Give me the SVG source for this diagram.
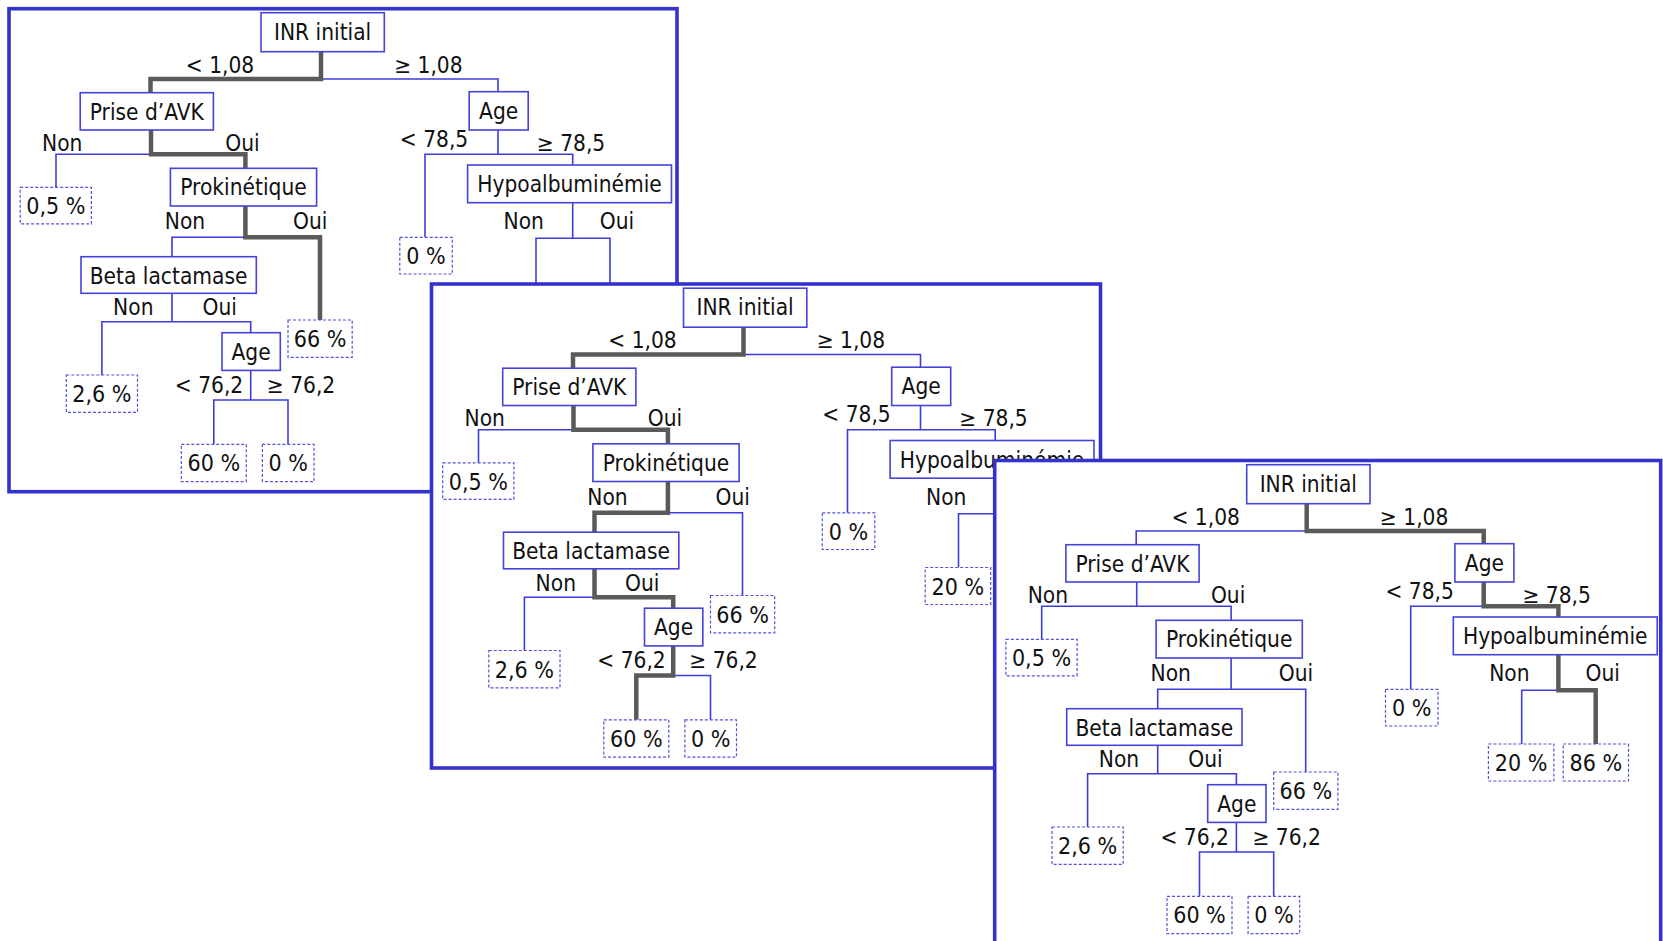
<svg xmlns="http://www.w3.org/2000/svg" width="1663" height="941" viewBox="0 0 1663 941">
<style>
.frame{fill:#fff;stroke:#3333cc;stroke-width:3.6}
.node rect{fill:#fff;stroke:#4444dd;stroke-width:1.6}
.leaf rect{fill:#fff;stroke:#5252dd;stroke-width:1.2;stroke-dasharray:3 2}
text{font-family:"DejaVu Sans Condensed","DejaVu Sans",sans-serif;font-stretch:condensed;font-size:22.5px;fill:#111;text-anchor:middle}
.leaf text{font-size:23px}
.thin{fill:none;stroke:#3c3cdc;stroke-width:1.6}
.bold{fill:none;stroke:#5a5a5a;stroke-width:4.5;stroke-linejoin:miter}
</style>
<rect width="1663" height="941" fill="#fff"/>

<!-- ================= PANEL 1 ================= -->
<g id="panel1">
<rect class="frame" x="9" y="8.7" width="668" height="483"/>
<g id="p1-connectors">
<path class="thin" d="M321,51.7 V79 M150.5,92.7 V79 H498 V91.7"/>
<path class="thin" d="M151,130 V154.3 M56,187.3 V154.3 H245.4 V168.3"/>
<path class="thin" d="M498,130 V154.3 M425,237.3 V154.3 H572.7 V165"/>
<path class="thin" d="M245.4,206 V237.3 M172,256.7 V237.3 H320 V320"/>
<path class="thin" d="M572.7,202.7 V238.3 M536,292 V238.3 H610 V292"/>
<path class="thin" d="M172,293.3 V321.7 M101.9,375 V321.7 H250.7 V332.7"/>
<path class="thin" d="M250.7,370.4 V400 M213.8,444.3 V400 H288 V444.3"/>
<path class="bold" d="M321,51.7 V79 H150.5 V92.7"/>
<path class="bold" d="M151,130 V154.3 H245.4 V168.3"/>
<path class="bold" d="M245.4,206 V237.3 H320 V320"/>
<g id="p1-edge-labels">
<text x="220" y="72.7">&lt; 1,08</text><text x="428.4" y="72.7">≥ 1,08</text>
<text x="62.2" y="150.7">Non</text><text x="242.4" y="150.7">Oui</text>
<text x="434" y="146.5">&lt; 78,5</text><text x="571" y="150.7">≥ 78,5</text>
<text x="185" y="229.3">Non</text><text x="310.2" y="229.3">Oui</text>
<text x="523.7" y="229.3">Non</text><text x="617" y="229.3">Oui</text>
<text x="133.3" y="315.3">Non</text><text x="219.7" y="315.3">Oui</text>
<text x="209" y="392.5">&lt; 76,2</text><text x="301" y="392.5">≥ 76,2</text>
</g>
</g>
<g id="p1-inr" class="node"><rect x="261" y="12.7" width="123.3" height="39"/><text x="322.6" y="39.7">INR initial</text></g>
<g id="p1-prise" class="node"><rect x="80.2" y="92.7" width="133.2" height="37.3"/><text x="146.8" y="119.7">Prise d’AVK</text></g>
<g id="p1-age" class="node"><rect x="469.2" y="91.7" width="59" height="38.3"/><text x="498.7" y="118.7">Age</text></g>
<g id="p1-l05" class="leaf"><rect x="20.2" y="187.3" width="71.2" height="36.5"/><text x="55.8" y="214.3">0,5 %</text></g>
<g id="p1-prok" class="node"><rect x="170.4" y="168.3" width="146.2" height="37.7"/><text x="243.5" y="195.3">Prokinétique</text></g>
<g id="p1-l0a" class="leaf"><rect x="399.8" y="237.3" width="52.5" height="36.7"/><text x="426" y="264.3">0 %</text></g>
<g id="p1-hypo" class="node"><rect x="467.6" y="165" width="203.9" height="37.7"/><text x="569.5" y="192">Hypoalbuminémie</text></g>
<g id="p1-beta" class="node"><rect x="81" y="256.7" width="175.3" height="36.6"/><text x="168.6" y="283.7">Beta lactamase</text></g>
<g id="p1-l66" class="leaf"><rect x="288" y="320" width="64.2" height="37.3"/><text x="320.1" y="347">66 %</text></g>
<g id="p1-age2" class="node"><rect x="222" y="332.7" width="58.3" height="37.7"/><text x="251.1" y="359.7">Age</text></g>
<g id="p1-l26" class="leaf"><rect x="66.3" y="375" width="71.2" height="37.3"/><text x="101.9" y="402">2,6 %</text></g>
<g id="p1-l60" class="leaf"><rect x="181.3" y="444.3" width="65" height="37.3"/><text x="213.8" y="471.3">60 %</text></g>
<g id="p1-l0b" class="leaf"><rect x="262.4" y="444.3" width="51.6" height="37.3"/><text x="288.2" y="471.3">0 %</text></g>
</g>

<!-- ================= PANEL 2 ================= -->
<g id="panel2" transform="translate(422.5,275.5)">
<rect class="frame" x="9" y="8.5" width="669" height="484"/>
<g id="p2-connectors">
<path class="thin" d="M321,51.7 V79 M150.5,92.7 V79 H498 V91.7"/>
<path class="thin" d="M151,130 V154.3 M56,187.3 V154.3 H245.4 V168.3"/>
<path class="thin" d="M498,130 V154.3 M425,237.3 V154.3 H572.7 V165"/>
<path class="thin" d="M245.4,206 V237.3 M172,256.7 V237.3 H320 V320"/>
<path class="thin" d="M536,292 V238.3 H572"/>
<path class="thin" d="M172,293.3 V321.7 M101.9,375 V321.7 H250.7 V332.7"/>
<path class="thin" d="M250.7,370.4 V400 M213.8,444.3 V400 H288 V444.3"/>
<path class="bold" d="M321,51.7 V79 H150.5 V92.7"/>
<path class="bold" d="M151,130 V154.3 H245.4 V168.3"/>
<path class="bold" d="M245.4,206 V237.3 H172 V256.7"/>
<path class="bold" d="M172,293.3 V321.7 H250.7 V332.7"/>
<path class="bold" d="M250.7,370.4 V400 H213.8 V444.3"/>
<g id="p2-edge-labels">
<text x="220" y="72.7">&lt; 1,08</text><text x="428.4" y="72.7">≥ 1,08</text>
<text x="62.2" y="150.7">Non</text><text x="242.4" y="150.7">Oui</text>
<text x="434" y="146.5">&lt; 78,5</text><text x="571" y="150.7">≥ 78,5</text>
<text x="185" y="229.3">Non</text><text x="310.2" y="229.3">Oui</text>
<text x="523.7" y="229.3">Non</text>
<text x="133.3" y="315.3">Non</text><text x="219.7" y="315.3">Oui</text>
<text x="209" y="392.5">&lt; 76,2</text><text x="301" y="392.5">≥ 76,2</text>
</g>
</g>
<g id="p2-inr" class="node"><rect x="261" y="12.7" width="123.3" height="39"/><text x="322.6" y="39.7">INR initial</text></g>
<g id="p2-prise" class="node"><rect x="80.2" y="92.7" width="133.2" height="37.3"/><text x="146.8" y="119.7">Prise d’AVK</text></g>
<g id="p2-age" class="node"><rect x="469.2" y="91.7" width="59" height="38.3"/><text x="498.7" y="118.7">Age</text></g>
<g id="p2-l05" class="leaf"><rect x="20.2" y="187.3" width="71.2" height="36.5"/><text x="55.8" y="214.3">0,5 %</text></g>
<g id="p2-prok" class="node"><rect x="170.4" y="168.3" width="146.2" height="37.7"/><text x="243.5" y="195.3">Prokinétique</text></g>
<g id="p2-l0a" class="leaf"><rect x="399.8" y="237.3" width="52.5" height="36.7"/><text x="426" y="264.3">0 %</text></g>
<g id="p2-hypo" class="node"><rect x="467.6" y="165" width="203.9" height="37.7"/><text x="569.5" y="192">Hypoalbuminémie</text></g>
<g id="p2-beta" class="node"><rect x="81" y="256.7" width="175.3" height="36.6"/><text x="168.6" y="283.7">Beta lactamase</text></g>
<g id="p2-l66" class="leaf"><rect x="288" y="320" width="64.2" height="37.3"/><text x="320.1" y="347">66 %</text></g>
<g id="p2-age2" class="node"><rect x="222" y="332.7" width="58.3" height="37.7"/><text x="251.1" y="359.7">Age</text></g>
<g id="p2-l26" class="leaf"><rect x="66.3" y="375" width="71.2" height="37.3"/><text x="101.9" y="402">2,6 %</text></g>
<g id="p2-l60" class="leaf"><rect x="181.3" y="444.3" width="65" height="37.3"/><text x="213.8" y="471.3">60 %</text></g>
<g id="p2-l0b" class="leaf"><rect x="262.4" y="444.3" width="51.6" height="37.3"/><text x="288.2" y="471.3">0 %</text></g>
<g id="p2-l20" class="leaf"><rect x="502.7" y="292" width="65.5" height="37"/><text x="535.4" y="319">20 %</text></g>
</g>

<!-- ================= PANEL 3 ================= -->
<g id="panel3" transform="translate(985.7,452)">
<rect class="frame" x="9" y="8.5" width="666" height="490"/>
<g id="p3-connectors">
<path class="thin" d="M321,51.7 V79 M150.5,92.7 V79 H498 V91.7"/>
<path class="thin" d="M151,130 V154.3 M56,187.3 V154.3 H245.4 V168.3"/>
<path class="thin" d="M498,130 V154.3 M425,237.3 V154.3 H572.7 V165"/>
<path class="thin" d="M245.4,206 V237.3 M172,256.7 V237.3 H320 V320"/>
<path class="thin" d="M572.7,202.7 V238.3 M536,292 V238.3 H610 V292"/>
<path class="thin" d="M172,293.3 V321.7 M101.9,375 V321.7 H250.7 V332.7"/>
<path class="thin" d="M250.7,370.4 V400 M213.8,444.3 V400 H288 V444.3"/>
<path class="bold" d="M321,51.7 V79 H498 V91.7"/>
<path class="bold" d="M498,130 V154.3 H572.7 V165"/>
<path class="bold" d="M572.7,202.7 V238.3 H610 V292"/>
<g id="p3-edge-labels">
<text x="220" y="72.7">&lt; 1,08</text><text x="428.4" y="72.7">≥ 1,08</text>
<text x="62.2" y="150.7">Non</text><text x="242.4" y="150.7">Oui</text>
<text x="434" y="146.5">&lt; 78,5</text><text x="571" y="150.7">≥ 78,5</text>
<text x="185" y="229.3">Non</text><text x="310.2" y="229.3">Oui</text>
<text x="523.7" y="229.3">Non</text><text x="617" y="229.3">Oui</text>
<text x="133.3" y="315.3">Non</text><text x="219.7" y="315.3">Oui</text>
<text x="209" y="392.5">&lt; 76,2</text><text x="301" y="392.5">≥ 76,2</text>
</g>
</g>
<g id="p3-inr" class="node"><rect x="261" y="12.7" width="123.3" height="39"/><text x="322.6" y="39.7">INR initial</text></g>
<g id="p3-prise" class="node"><rect x="80.2" y="92.7" width="133.2" height="37.3"/><text x="146.8" y="119.7">Prise d’AVK</text></g>
<g id="p3-age" class="node"><rect x="469.2" y="91.7" width="59" height="38.3"/><text x="498.7" y="118.7">Age</text></g>
<g id="p3-l05" class="leaf"><rect x="20.2" y="187.3" width="71.2" height="36.5"/><text x="55.8" y="214.3">0,5 %</text></g>
<g id="p3-prok" class="node"><rect x="170.4" y="168.3" width="146.2" height="37.7"/><text x="243.5" y="195.3">Prokinétique</text></g>
<g id="p3-l0a" class="leaf"><rect x="399.8" y="237.3" width="52.5" height="36.7"/><text x="426" y="264.3">0 %</text></g>
<g id="p3-hypo" class="node"><rect x="467.6" y="165" width="203.9" height="37.7"/><text x="569.5" y="192">Hypoalbuminémie</text></g>
<g id="p3-beta" class="node"><rect x="81" y="256.7" width="175.3" height="36.6"/><text x="168.6" y="283.7">Beta lactamase</text></g>
<g id="p3-l66" class="leaf"><rect x="288" y="320" width="64.2" height="37.3"/><text x="320.1" y="347">66 %</text></g>
<g id="p3-age2" class="node"><rect x="222" y="332.7" width="58.3" height="37.7"/><text x="251.1" y="359.7">Age</text></g>
<g id="p3-l26" class="leaf"><rect x="66.3" y="375" width="71.2" height="37.3"/><text x="101.9" y="402">2,6 %</text></g>
<g id="p3-l60" class="leaf"><rect x="181.3" y="444.3" width="65" height="37.3"/><text x="213.8" y="471.3">60 %</text></g>
<g id="p3-l0b" class="leaf"><rect x="262.4" y="444.3" width="51.6" height="37.3"/><text x="288.2" y="471.3">0 %</text></g>
<g id="p3-l20" class="leaf"><rect x="502.7" y="292" width="65.5" height="37"/><text x="535.4" y="319">20 %</text></g>
<g id="p3-l86" class="leaf"><rect x="577.5" y="292" width="65.3" height="37"/><text x="610.1" y="319">86 %</text></g>
</g>
</svg>
